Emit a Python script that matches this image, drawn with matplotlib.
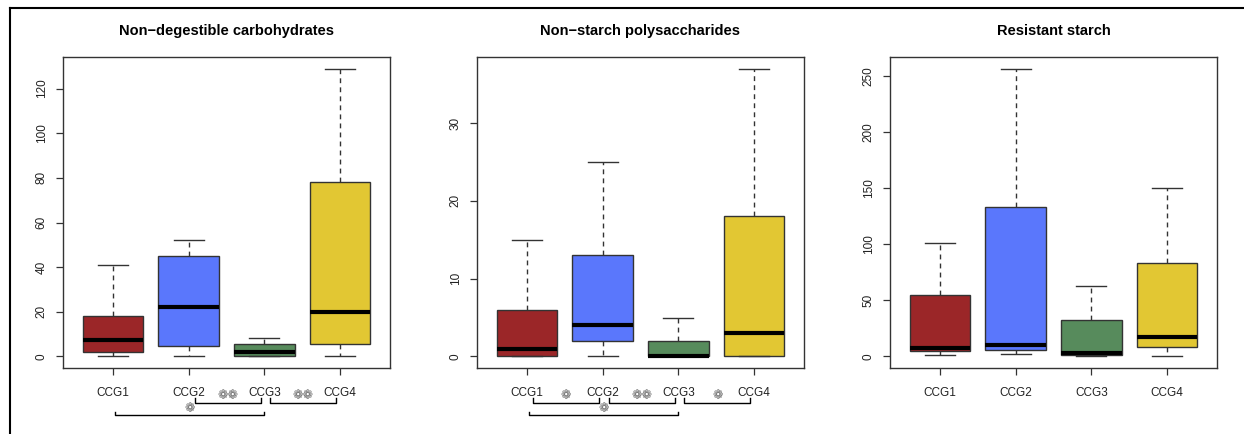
import matplotlib
matplotlib.use('Agg')
import matplotlib.pyplot as plt
from matplotlib.lines import Line2D

# groups and colours
groups = ['CCG1', 'CCG2', 'CCG3', 'CCG4']
colors = ['#9b2628', '#5a77fc', '#578b5c', '#e2c733']

titles = ['Non\u2212degestible carbohydrates', 'Non\u2212starch polysaccharides', 'Resistant starch']

# five number summaries (low whisker, q1, median, q3, high whisker)
ndc_lo = [0, 0, 0, 0]
ndc_q1 = [2.1, 4.5, 0, 5.7]
ndc_med = [7.2, 22.1, 2.2, 20.1]
ndc_q3 = [18.2, 45.1, 5.5, 78.1]
ndc_hi = [41, 52.2, 8.1, 129]

nsp_lo = [0, 0, 0, 0]
nsp_q1 = [0, 2.05, 0, 0]
nsp_med = [1.0, 4.05, 0, 3.0]
nsp_q3 = [6.0, 13.0, 2.0, 18.0]
nsp_hi = [15.0, 25.0, 5.0, 37.0]

rs_lo = [1, 2, 0, 0]
rs_q1 = [4.8, 6, 1.5, 8.3]
rs_med = [8.0, 10, 3.3, 17.2]
rs_q3 = [54.7, 133.5, 33, 83.2]
rs_hi = [101, 257, 63, 150]

ndc_ticks = [0, 20, 40, 60, 80, 100, 120]
nsp_ticks = [0, 10, 20, 30]
rs_ticks = [0, 50, 100, 150, 200, 250]

# significance brackets: (group a, group b, row, stars)
ndc_sig = [(2, 3, 0, 2), (3, 4, 0, 2), (1, 3, 1, 1)]
nsp_sig = [(1, 2, 0, 1), (2, 3, 0, 2), (3, 4, 0, 1), (1, 3, 1, 1)]
rs_sig = []

panels = [
    (ndc_lo, ndc_q1, ndc_med, ndc_q3, ndc_hi, ndc_ticks, ndc_sig),
    (nsp_lo, nsp_q1, nsp_med, nsp_q3, nsp_hi, nsp_ticks, nsp_sig),
    (rs_lo, rs_q1, rs_med, rs_q3, rs_hi, rs_ticks, rs_sig),
]

plt.rcParams['font.family'] = ['Liberation Sans', 'DejaVu Sans']

fig = plt.figure(figsize=(12.44, 4.34), dpi=100)
lefts = [63, 477, 890]
axw = 327
bottom = (434 - 368) / 434
height = 311 / 434
edge = '#333333'

for i, (lo, q1, med, q3, hi, ticks, sig) in enumerate(panels):
    ax = fig.add_axes([lefts[i] / 1244, bottom, axw / 1244, height])
    stats = []
    for j in range(4):
        stats.append({'whislo': lo[j], 'q1': q1[j], 'med': med[j], 'q3': q3[j],
                      'whishi': hi[j], 'fliers': [], 'label': groups[j]})
    bp = ax.bxp(stats, positions=[1, 2, 3, 4], widths=0.8, capwidths=0.4,
                patch_artist=True, showfliers=False,
                boxprops=dict(edgecolor=edge, linewidth=1.0),
                medianprops=dict(color='black', linewidth=3, solid_capstyle='butt'),
                whiskerprops=dict(color=edge, linewidth=1.0, linestyle=(0, (3.5, 3))),
                capprops=dict(color=edge, linewidth=1.0))
    for patch, c in zip(bp['boxes'], colors):
        patch.set_facecolor(c)

    top = max(hi)
    ax.set_ylim(-0.04 * top, top * 1.04)
    ax.set_xlim(0.34, 4.66)
    ax.set_yticks(ticks)
    ax.set_yticklabels([str(t) for t in ticks], rotation=90, va='center')
    ax.set_xticks([1, 2, 3, 4])
    ax.set_xticklabels(groups)
    ax.tick_params(axis='both', direction='out', length=5, width=0.9, color=edge,
                   labelsize=8.5, labelcolor='#222222', pad=6)
    ax.tick_params(axis='x', pad=9)
    for s in ax.spines.values():
        s.set_color(edge)
        s.set_linewidth(1.0)
    ax.set_title(titles[i], fontsize=10.5, fontweight='bold', pad=16)

    # significance brackets under the labels
    tr = ax.get_xaxis_transform()
    for a, b, row, n in sig:
        if row == 0:
            x0, x1, yb, yt, ys = a + 0.08, b - 0.05, -0.112, -0.098, -0.09
        else:
            x0, x1, yb, yt, ys = a + 0.03, b, -0.151, -0.140, -0.13
        ax.add_line(Line2D([x0, x0, x1, x1], [yt, yb, yb, yt], transform=tr,
                           color='black', linewidth=1.0, clip_on=False))
        ax.text((x0 + x1) / 2, ys, '\u2741' * n, transform=tr, ha='center', va='center',
                fontsize=9, color='#666666', family=['DejaVu Sans'])

# outer frame (cut at right and bottom)
fig.add_artist(Line2D([10 / 1244, 10 / 1244], [0, 1 - 8 / 434], transform=fig.transFigure,
                      color='black', linewidth=1.5))
fig.add_artist(Line2D([10 / 1244, 1], [1 - 8 / 434, 1 - 8 / 434], transform=fig.transFigure,
                      color='black', linewidth=1.5))

fig.savefig('out.png', dpi=100)
